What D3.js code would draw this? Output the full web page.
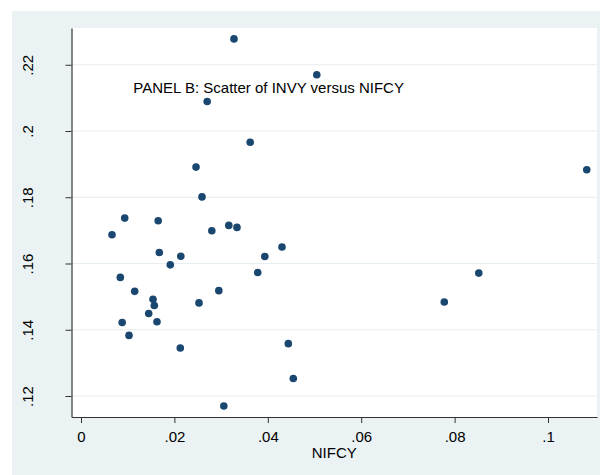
<!DOCTYPE html>
<html>
<head>
<meta charset="utf-8">
<script src="https://cdn.jsdelivr.net/npm/d3@7"></script>
<style>
  html, body { margin: 0; padding: 0; background: #ffffff; }
  svg { display: block; }
  text { font-family: "Liberation Sans", Arial, Helvetica, sans-serif; fill: #000; }
</style>
</head>
<body>
<svg id="chart" width="600" height="475"></svg>
<script>
// ---- Data ----
const nifcy = [0.03276, 0.05049, 0.02702, 0.03623, 0.1083, 0.02463, 0.02591, 0.00936, 0.01653, 0.00664,
               0.02801, 0.03165, 0.03340, 0.01677, 0.02137, 0.01912, 0.03936, 0.04304, 0.03784, 0.00842,
               0.01150, 0.01542, 0.01570, 0.01450, 0.00882, 0.01627, 0.01028, 0.02527, 0.02951, 0.02126,
               0.03058, 0.04439, 0.04546, 0.08518, 0.07779];
const invy  = [0.2278, 0.2170, 0.2089, 0.1966, 0.1883, 0.1891, 0.1801, 0.1737, 0.1729, 0.1687,
               0.1699, 0.1715, 0.1709, 0.1633, 0.1622, 0.1596, 0.1621, 0.1650, 0.1573, 0.1558,
               0.1516, 0.1492, 0.1473, 0.1449, 0.1422, 0.1424, 0.1383, 0.1481, 0.1518, 0.1345,
               0.1170, 0.1358, 0.1253, 0.1571, 0.1484];
const xTicks = [0, 0.02, 0.04, 0.06, 0.08, 0.1];
const xTickLabels = ["0", ".02", ".04", ".06", ".08", ".1"];
const yTicks = [0.12, 0.14, 0.16, 0.18, 0.2, 0.22];
const yTickLabels = [".12", ".14", ".16", ".18", ".2", ".22"];
const xTitle = "NIFCY";
const note = "PANEL B: Scatter of INVY versus NIFCY";

const points = nifcy.map((v, i) => ({ x: v, y: invy[i] }));

// ---- Layout ----
const W = 600, H = 475;
const plot = { left: 71.5, right: 597, top: 28, bottom: 417 };

const svg = d3.select("#chart");

// outer background
svg.append("rect").attr("x", 12).attr("y", 11).attr("width", W - 12).attr("height", H - 11)
  .attr("fill", "#eaf2f3");
// plot region
svg.append("rect").attr("x", plot.left).attr("y", plot.top)
  .attr("width", plot.right - plot.left).attr("height", plot.bottom - plot.top)
  .attr("fill", "#ffffff");

// scales anchored on tick positions, then extended to plot edges
const x = d3.scaleLinear().domain([0, 0.1]).range([81, 548]);
x.domain([x.invert(plot.left), x.invert(plot.right)]).range([plot.left, plot.right]);
const y = d3.scaleLinear().domain([0.12, 0.2]).range([396, 131]);
y.domain([y.invert(plot.bottom), y.invert(plot.top)]).range([plot.bottom, plot.top]);

// gridlines
svg.append("g").selectAll("line").data(yTicks).join("line")
  .attr("x1", plot.left).attr("x2", plot.right)
  .attr("y1", d => y(d)).attr("y2", d => y(d))
  .attr("stroke", "#e6eef0").attr("stroke-width", 1.2);

// x axis
const xAxis = d3.axisBottom(x).tickValues(xTicks)
  .tickFormat((d, i) => xTickLabels[i]).tickSizeInner(6).tickSizeOuter(0).tickPadding(3);
const gx = svg.append("g").attr("transform", `translate(0,${plot.bottom})`).call(xAxis);
gx.select(".domain").attr("stroke", "#333").attr("stroke-width", 1.2);
gx.selectAll(".tick line").attr("stroke", "#333").attr("stroke-width", 1);
gx.selectAll(".tick text").attr("font-size", 15).attr("fill", "#000")
  .attr("font-family", '"Liberation Sans", Arial, Helvetica, sans-serif')
  .attr("dy", null).attr("y", 25);

// y axis
const yAxis = d3.axisLeft(y).tickValues(yTicks)
  .tickFormat((d, i) => yTickLabels[i]).tickSizeInner(6).tickSizeOuter(0);
const gy = svg.append("g").attr("transform", `translate(${plot.left},0)`).call(yAxis);
gy.select(".domain").attr("stroke", "#333").attr("stroke-width", 1.2);
gy.selectAll(".tick line").attr("stroke", "#333").attr("stroke-width", 1);
gy.selectAll(".tick text").attr("font-size", 15).attr("fill", "#000")
  .attr("font-family", '"Liberation Sans", Arial, Helvetica, sans-serif')
  .attr("x", null).attr("dy", null).attr("y", null)
  .attr("text-anchor", "middle")
  .attr("transform", `translate(${33 - plot.left},0) rotate(-90)`);

// x title
svg.append("text").attr("x", (plot.left + plot.right) / 2).attr("y", 458)
  .attr("text-anchor", "middle").attr("font-size", 15).text(xTitle);

// points
svg.append("g").selectAll("circle").data(points).join("circle")
  .attr("cx", d => x(d.x)).attr("cy", d => y(d.y)).attr("r", 3.8)
  .attr("fill", "#1a476f");

// note text
svg.append("text").attr("x", 133.3).attr("y", 92.5)
  .attr("font-size", 15).text(note);
</script>
</body>
</html>
